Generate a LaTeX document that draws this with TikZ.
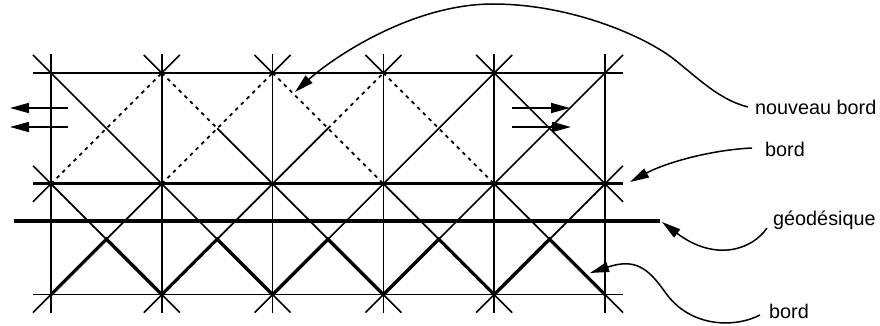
\documentclass[tikz,border=0pt]{standalone}
\usepackage{fontspec}
\setmainfont{Liberation Sans}
\usetikzlibrary{arrows.meta,calc}
\begin{document}
\begin{tikzpicture}[x=1pt,y=-1pt,
  thinln/.style={line width=1.7pt},
  thickln/.style={line width=3.3pt},
  dotln/.style={line width=1.7pt, dash pattern=on 3.6pt off 4.4pt},
  armln/.style={line width=1.6pt},
  lbl/.style={inner sep=0pt, anchor=base west, font=\fontsize{19.8}{22}\selectfont},
  callout/.style={line width=1.5pt, -{Triangle[length=19pt,width=10pt]}},
  sidearrow/.style={line width=1.7pt, -{Triangle[length=19pt,width=10pt]}}
]
\useasboundingbox (0,0) rectangle (880,326);
% grid vertices
\foreach \i in {0,...,5} {
  \coordinate (v\i0) at ({51+110.8*\i},73);
  \coordinate (v\i1) at ({51+110.8*\i},183.8);
  \coordinate (v\i2) at ({51+110.8*\i},294.6);
}
\foreach \i in {0,...,4} {
  \coordinate (mt\i) at ({106.4+110.8*\i},128.4);
  \coordinate (mb\i) at ({106.4+110.8*\i},239.2);
}
% vertical lines
\foreach \i in {0,...,5} {
  \draw[thinln] ($(v\i0)+(0,-19)$) -- ($(v\i2)+(0,18.5)$);
}
% horizontal lines
\draw[thinln] ($(v00)+(-18,0)$) -- ($(v50)+(18,0)$);
\draw[thickln] ($(v01)+(-18,0)$) -- ($(v51)+(18,0)$);
\draw[thinln] ($(v02)+(-18,0)$) -- ($(v52)+(18,0)$);
\coordinate (gL) at (14,221);
\coordinate (gR) at (660,221);
\draw[thickln] (gL) -- (gR);
% upper band diagonals
\draw[thinln] (v00) -- (v11);
\draw[dotln] (v01) -- (v10);
\draw[dotln] (v10) -- (mt1);
\draw[thinln] (mt1) -- (v21);
\draw[dotln] (v11) -- (v20);
\draw[dotln] (v20) -- (v31);
\draw[thinln] (v21) -- (mt2);
\draw[dotln] (mt2) -- (v30);
\draw[dotln] (v30) -- (v41);
\draw[thinln] (v31) -- (v40);
\draw[thinln] (v40) -- (v51);
\draw[thinln] (v41) -- (v50);
% lower band
\foreach \i/\j in {0/1,1/2,2/3,3/4,4/5} {
  \draw[thinln] (v\i1) -- (mb\i) -- (v\j1);
}
\draw[thickln, line join=miter] (v02) -- (mb0) -- (v12) -- (mb1) -- (v22) -- (mb2) -- (v32) -- (mb3) -- (v42) -- (mb4) -- (v52);
% arms
\draw[armln] (v00) -- ++(-18,-18);
\draw[armln] (v50) -- ++(18,-18);
\draw[armln] (v02) -- ++(-18,18);
\draw[armln] (v52) -- ++(18,18);
\foreach \i in {1,...,4} {
  \draw[armln] (v\i0) -- ++(-18,-18);
  \draw[armln] (v\i0) -- ++(18,-18);
  \draw[armln] (v\i2) -- ++(-18,18);
  \draw[armln] (v\i2) -- ++(18,18);
}
\draw[armln] (v01) -- ++(-18,-18);
\draw[armln] (v01) -- ++(-18,18);
\draw[armln] (v51) -- ++(18,-18);
\draw[armln] (v51) -- ++(18,18);
% side arrows
\coordinate (la1s) at (68,108); \coordinate (la1e) at (10,108);
\coordinate (la2s) at (68,127); \coordinate (la2e) at (10,127);
\coordinate (ra1s) at (512,108); \coordinate (ra1e) at (570,108);
\coordinate (ra2s) at (512,127); \coordinate (ra2e) at (571,127);
\draw[sidearrow] (la1s) -- (la1e);
\draw[sidearrow] (la2s) -- (la2e);
\draw[sidearrow] (ra1s) -- (ra1e);
\draw[sidearrow] (ra2s) -- (ra2e);
% labels
\node[lbl] (nb) at (755,114.5) {nouveau bord};
\node[lbl] (b1) at (765,156) {bord};
\node[lbl] (geo) at (773,225) {géodésique};
\node[lbl] (b2) at (769,318) {bord};
% tips
\coordinate (tNB) at (295,92);
\coordinate (tB1) at (630,182);
\coordinate (tG) at (662,222);
\coordinate (tB2) at (590,273);
% callouts
\draw[callout] ($(nb.base west)+(-7,-7.5)$) .. controls (720,100) and (700,80) .. (675,60)
  .. controls (645,36) and (570,4) .. (493,4)
  .. controls (410,4) and (330,60) .. (tNB);
\draw[callout] ($(b1.base west)+(-13,-8)$) .. controls (710,150) and (665,163) .. (tB1);
\draw[callout] ($(geo.base west)+(-6,3)$) .. controls (752,250) and (715,262) .. (tG);
\draw[callout] ($(b2.base west)+(-9,-3)$) .. controls (735,328) and (690,328) .. (665,292)
  .. controls (648,268) and (635,258) .. (tB2);
\end{tikzpicture}
\end{document}
